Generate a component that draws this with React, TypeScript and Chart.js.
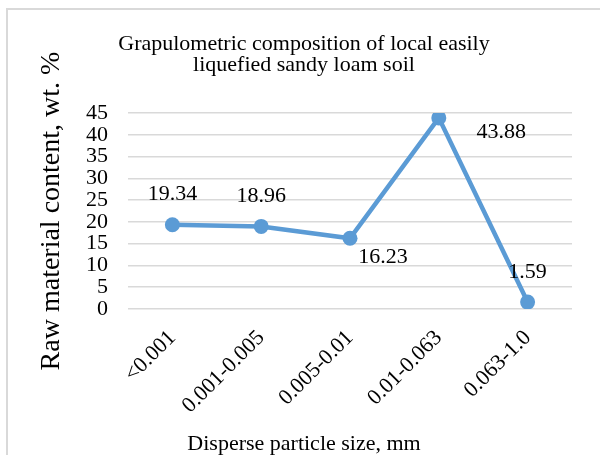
import React, { useEffect, useRef } from 'react';
import { Chart, registerables } from 'chart.js';

Chart.register(...registerables);

const categories = ['<0.001', '0.001-0.005', '0.005-0.01', '0.01-0.063', '0.063-1.0'];
const contentValues = [19.34, 18.96, 16.23, 43.88, 1.59];
const valueLabels = ['19.34', '18.96', '16.23', '43.88', '1.59'];
const titleLines = ['Grapulometric composition of local easily', 'liquefied sandy loam soil'];
const yAxisTitle = 'Raw material content, wt. %';
const xAxisTitle = 'Disperse particle size, mm';
const yMin = 0;
const yMax = 45;
const yStep = 5;
// label placement relative to each point (dx, dy), as in the original
const labelOffsets: [number, number][] = [[0, -30.5], [0, -30], [33, 18.5], [62.5, 14], [0, -30]];

const FONT = '"Liberation Serif", "Times New Roman", serif';
const LINE_COLOR = '#5b9bd5';
const GRID_COLOR = '#d9d9d9';

const valueLabelPlugin = {
  id: 'valueLabelPlugin',
  afterDatasetsDraw(chart: any) {
    const ctx = chart.ctx;
    const meta = chart.getDatasetMeta(0);
    ctx.save();
    ctx.font = `22px ${FONT}`;
    ctx.fillStyle = '#000';
    ctx.textAlign = 'center';
    ctx.textBaseline = 'middle';
    meta.data.forEach((pt: any, i: number) => {
      const [dx, dy] = labelOffsets[i];
      ctx.fillText(valueLabels[i], pt.x + dx, pt.y + dy);
    });
    ctx.restore();
  },
};

export default function App() {
  const canvasRef = useRef<HTMLCanvasElement | null>(null);

  useEffect(() => {
    if (!canvasRef.current) return;
    Chart.defaults.font.family = FONT;
    const chart = new Chart(canvasRef.current, {
      type: 'line',
      data: {
        labels: categories,
        datasets: [
          {
            data: contentValues,
            borderColor: LINE_COLOR,
            backgroundColor: LINE_COLOR,
            borderWidth: 4.5,
            pointRadius: 7.5,
            pointBackgroundColor: LINE_COLOR,
            pointBorderWidth: 0,
            tension: 0,
          },
        ],
      },
      options: {
        responsive: false,
        animation: false,
        layout: { padding: 0 },
        plugins: {
          legend: { display: false },
          tooltip: { enabled: false },
          title: {
            display: true,
            text: titleLines,
            color: '#000',
            font: { family: FONT, size: 22, weight: 'normal', lineHeight: 0.955 },
            padding: { top: 24, bottom: 37 },
          },
          subtitle: {
            display: true,
            position: 'bottom',
            text: xAxisTitle,
            color: '#000',
            font: { family: FONT, size: 22, weight: 'normal', lineHeight: 1 },
            padding: { top: 4, bottom: 0 },
          },
        },
        scales: {
          x: {
            type: 'category',
            offset: true,
            grid: { display: false, drawTicks: false },
            border: { display: false },
            ticks: {
              color: '#000',
              font: { family: FONT, size: 22 },
              minRotation: 45,
              maxRotation: 45,
              padding: 16,
              autoSkip: false,
            },
            afterFit: (s: any) => {
              s.height = 120;
            },
          },
          y: {
            type: 'linear',
            min: yMin,
            max: yMax,
            grid: { color: GRID_COLOR, lineWidth: 1.5, drawTicks: false },
            border: { display: false },
            ticks: {
              stepSize: yStep,
              autoSkip: false,
              color: '#000',
              font: { family: FONT, size: 22 },
              padding: 20,
            },
            title: {
              display: true,
              text: yAxisTitle,
              color: '#000',
              font: { family: FONT, size: 28, lineHeight: 1.2 },
              padding: { top: 27, bottom: 0 },
            },
            afterFit: (s: any) => {
              s.width = 120;
            },
          },
          yRight: {
            type: 'linear',
            position: 'right',
            display: true,
            grid: { display: false, drawTicks: false },
            border: { display: false },
            ticks: { display: false },
            afterFit: (s: any) => {
              s.width = 28;
            },
          },
        },
      },
      plugins: [valueLabelPlugin],
    } as any);
    return () => chart.destroy();
  }, []);

  return (
    <div
      style={{
        position: 'absolute',
        left: 6,
        top: 8,
        width: 592,
        height: 445,
        borderTop: `2px solid ${GRID_COLOR}`,
        borderLeft: `2px solid ${GRID_COLOR}`,
        background: '#fff',
      }}
    >
      <canvas ref={canvasRef} width={592} height={445} style={{ display: 'block' }} />
    </div>
  );
}
